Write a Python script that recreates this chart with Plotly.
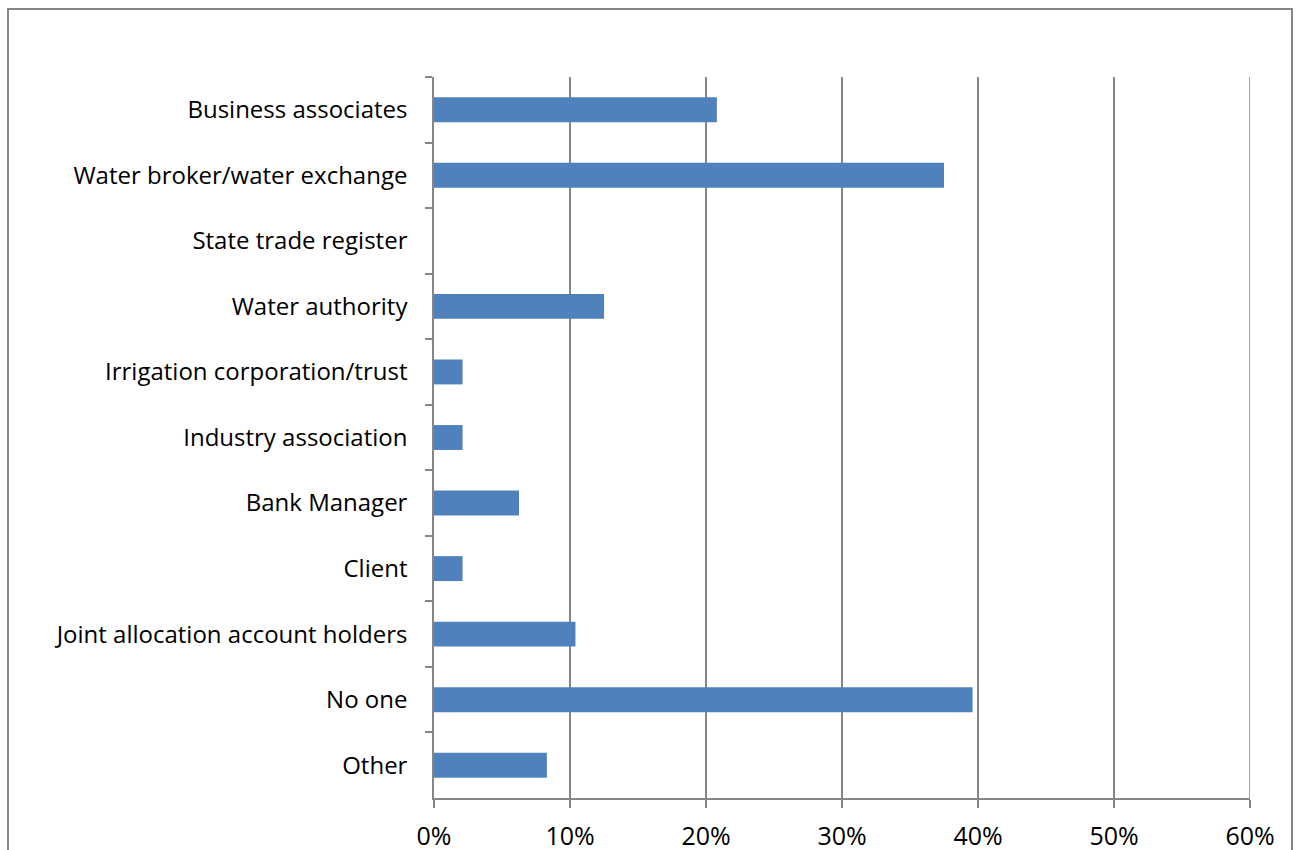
import plotly.graph_objects as go

categories = [
    "Business associates",
    "Water broker/water exchange",
    "State trade register",
    "Water authority",
    "Irrigation corporation/trust",
    "Industry association",
    "Bank Manager",
    "Client",
    "Joint allocation account holders",
    "No one",
    "Other",
]
shares = [0.208, 0.375, 0.0, 0.125, 0.021, 0.021, 0.0625, 0.021, 0.104, 0.396, 0.083]
x_ticks = [0, 0.1, 0.2, 0.3, 0.4, 0.5, 0.6]
x_tick_labels = ["0%", "10%", "20%", "30%", "40%", "50%", "60%"]

W, H = 1298, 850
L, R, T, B = 434, 48, 77, 52
pw, ph = W - L - R, H - T - B

grey = "#868686"
font = "'Open Sans', 'Noto Sans', sans-serif"

fig = go.Figure(
    go.Bar(
        x=shares,
        y=categories,
        orientation="h",
        marker=dict(color="#4f81bd", line=dict(width=0)),
    )
)

fig.update_layout(
    width=W,
    height=H,
    margin=dict(l=L, r=R, t=T, b=B, pad=0, autoexpand=False),
    paper_bgcolor="white",
    plot_bgcolor="white",
    bargap=0.62,
    showlegend=False,
    font=dict(family=font, color="#000000"),
    shapes=[
        # outer chart frame
        dict(
            type="rect",
            xref="paper",
            yref="paper",
            x0=(8 - L) / pw,
            x1=(1292 - L) / pw,
            y0=-(B + 20) / ph,
            y1=1 + (T - 9) / ph,
            line=dict(color=grey, width=2),
            fillcolor="rgba(0,0,0,0)",
            layer="below",
        ),
        # gridline at the right end of the value axis
        dict(
            type="line",
            xref="x",
            yref="paper",
            x0=x_ticks[-1],
            x1=x_ticks[-1],
            y0=0,
            y1=1,
            line=dict(color=grey, width=1.5),
            layer="below",
        ),
    ],
)

fig.update_xaxes(
    range=[0, 0.6],
    tickvals=x_ticks,
    ticktext=x_tick_labels,
    showgrid=True,
    gridcolor=grey,
    gridwidth=1.5,
    zeroline=False,
    showline=True,
    linecolor=grey,
    linewidth=1.5,
    ticks="outside",
    ticklen=8,
    tickwidth=1.5,
    tickcolor=grey,
    tickfont=dict(size=25, family=font),
    ticklabelstandoff=7,
    automargin=False,
)

fig.update_yaxes(
    categoryorder="array",
    categoryarray=categories,
    autorange="reversed",
    showgrid=False,
    zeroline=False,
    showline=True,
    linecolor=grey,
    linewidth=1.5,
    ticks="outside",
    tickson="boundaries",
    ticklen=7,
    tickwidth=1.5,
    tickcolor=grey,
    tickfont=dict(size=24, family=font),
    ticklabelstandoff=20,
    automargin=False,
)

fig.write_html("out.html")
